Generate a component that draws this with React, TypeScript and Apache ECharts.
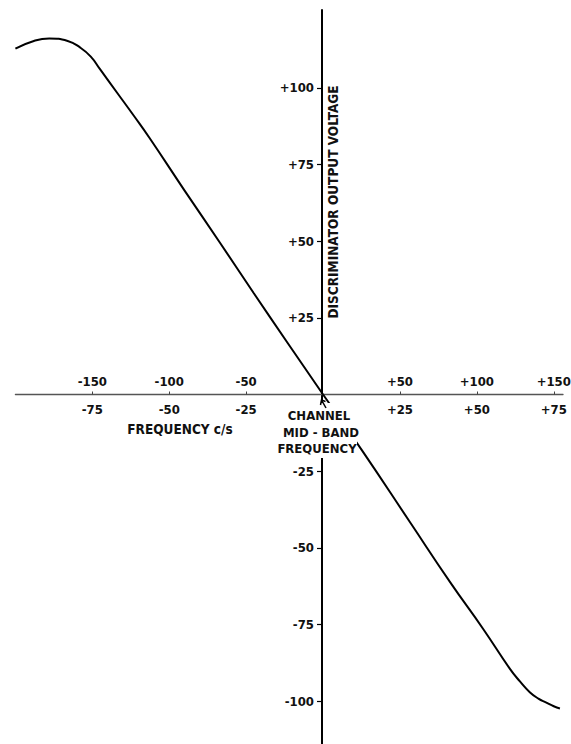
import React, { useEffect, useRef } from "react";
import * as echarts from "echarts";

// Upper (c/s) frequency scale ticks and lower scale ticks
const upperFreqTicks = [-150, -100, -50, 50, 100, 150];
const lowerFreqTicks = [-75, -50, -25, 25, 50, 75];
const voltTicks = [-100, -75, -50, -25, 25, 50, 75, 100];

// Left branch (frequency c/s, output voltage)
const leftFreq = [-200, -188, -178, -166, -158, -151, -145, -134, -123, -113, -90, -67, -45, -23, 0];
const leftVolt = [112.8, 115.3, 116.1, 115.3, 113.2, 110.2, 106.1, 98.5, 90.9, 83.8, 66.5, 49.5, 33, 16.8, 0];

// Right branch
const rightFreq = [0, 25, 57, 82.6, 104, 121.5, 128, 134.4, 140, 145.2, 150, 154];
const rightVolt = [0, -18, -42, -61.2, -76.4, -89.5, -93.6, -97.1, -99.2, -100.5, -101.7, -102.4];

const FONT = "DejaVu Sans Condensed";

const signed = (v: number) => (v > 0 ? "+" + v : String(v));

const GRID_LEFT = 15.4;
const GRID_TOP = 10;
const X_AXIS_OFFSET = -349.5; // moves bottom axes up to the zero line
const Y_AXIS_OFFSET = -306.6; // moves left axis right to the zero line

export default function App() {
  const ref = useRef<HTMLDivElement>(null);

  useEffect(() => {
    if (!ref.current) return;
    const chart = echarts.init(ref.current, null, { renderer: "svg" });
    const labelStyle = {
      fontFamily: FONT,
      fontWeight: "bold" as const,
      fontSize: 13,
      color: "#111",
    };
    const textStyle = (text: string, size = 13.5) => ({
      text,
      fontFamily: FONT,
      fontWeight: "bold",
      fontSize: size,
      fill: "#111",
      align: "center",
      verticalAlign: "middle",
    });
    chart.setOption({
      animation: false,
      backgroundColor: "#ffffff",
      grid: {
        left: GRID_LEFT,
        right: 8,
        top: GRID_TOP,
        bottom: 0,
        containLabel: false,
        outerBoundsMode: "none",
      },
      xAxis: [
        {
          type: "value",
          min: -200,
          max: 156,
          position: "bottom",
          offset: X_AXIS_OFFSET,
          axisLine: {
            show: true,
            onZero: false,
            lineStyle: { color: "#555", width: 1.3 },
          },
          axisTick: {
            show: true,
            customValues: upperFreqTicks,
            inside: true,
            length: 3,
            lineStyle: { color: "#444", width: 1 },
          },
          axisLabel: {
            show: true,
            inside: true,
            customValues: upperFreqTicks,
            formatter: (v: number) => signed(v),
            margin: 7,
            ...labelStyle,
          },
          splitLine: { show: false },
        },
        {
          type: "value",
          min: -100,
          max: 78,
          position: "bottom",
          offset: X_AXIS_OFFSET,
          axisLine: { show: false, onZero: false },
          axisTick: { show: false },
          axisLabel: {
            show: true,
            customValues: lowerFreqTicks,
            formatter: (v: number) => signed(v),
            margin: 8,
            ...labelStyle,
          },
          splitLine: { show: false },
        },
      ],
      yAxis: {
        type: "value",
        min: -114,
        max: 125.4,
        position: "left",
        offset: Y_AXIS_OFFSET,
        axisLine: {
          show: true,
          onZero: false,
          lineStyle: { color: "#000", width: 2 },
        },
        axisTick: {
          show: true,
          customValues: voltTicks,
          length: 5,
          lineStyle: { color: "#000", width: 1.2 },
        },
        axisLabel: {
          show: true,
          customValues: voltTicks,
          formatter: (v: number) => signed(v),
          margin: 8,
          ...labelStyle,
        },
        splitLine: { show: false },
      },
      series: [
        {
          type: "line",
          xAxisIndex: 0,
          yAxisIndex: 0,
          data: leftFreq.map((f, i) => [f, leftVolt[i]]),
          showSymbol: false,
          symbol: "none",
          smooth: 0.5,
          lineStyle: { color: "#000", width: 2 },
          z: 3,
        },
        {
          type: "line",
          xAxisIndex: 0,
          yAxisIndex: 0,
          data: rightFreq.map((f, i) => [f, rightVolt[i]]),
          showSymbol: false,
          symbol: "none",
          smooth: 0.5,
          lineStyle: { color: "#000", width: 2 },
          z: 3,
        },
      ],
      graphic: [
        {
          type: "text",
          x: 333,
          y: 202,
          rotation: Math.PI / 2,
          z: 100,
          style: textStyle("DISCRIMINATOR OUTPUT VOLTAGE", 13.5),
        },
        {
          type: "text",
          x: 180,
          y: 429,
          z: 100,
          style: textStyle("FREQUENCY c/s", 13.5),
        },
        {
          type: "rect",
          z: 99,
          shape: { x: 277, y: 403, width: 80, height: 55 },
          style: { fill: "#ffffff" },
        },
        { type: "text", x: 319, y: 415, z: 100, style: textStyle("CHANNEL", 13) },
        { type: "text", x: 321, y: 432, z: 100, style: textStyle("MID - BAND", 13) },
        { type: "text", x: 317, y: 448, z: 100, style: textStyle("FREQUENCY", 13) },
        {
          type: "polyline",
          z: 100,
          shape: { points: [[326, 408], [321.5, 400]] },
          style: { stroke: "#000", lineWidth: 1.5, fill: null },
        },
        {
          type: "polyline",
          z: 100,
          shape: { points: [[320.5, 405], [321.5, 400], [325.5, 401.5]] },
          style: { stroke: "#000", lineWidth: 1.5, fill: null },
        },
      ],
    });
    return () => chart.dispose();
  }, []);

  return (
    <div
      ref={ref}
      style={{ position: "absolute", left: 0, top: 0, width: 571, height: 744 }}
    />
  );
}
